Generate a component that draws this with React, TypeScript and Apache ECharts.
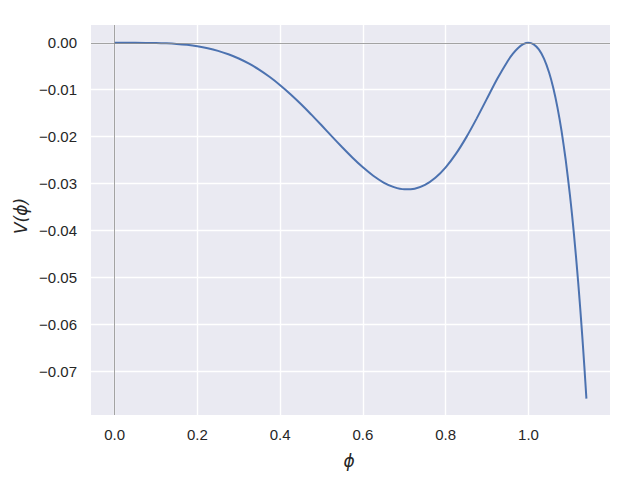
import React, { useEffect, useRef } from "react";
import * as echarts from "echarts";

// φ values and V(φ) values
const phi = [
  0, 0.05, 0.1, 0.125, 0.15, 0.175, 0.2, 0.225, 0.25, 0.275, 0.3, 0.325, 0.35, 0.375,
  0.4, 0.425, 0.45, 0.475, 0.5, 0.525, 0.55, 0.575, 0.6, 0.625, 0.65, 0.675, 0.7,
  0.725, 0.75, 0.775, 0.8, 0.825, 0.85, 0.875, 0.9, 0.925, 0.95, 0.9625, 0.975,
  0.9875, 1.0, 1.0125, 1.025, 1.0375, 1.05, 1.06, 1.07, 1.08, 1.09, 1.1, 1.105,
  1.11, 1.115, 1.12, 1.125, 1.13, 1.135, 1.14,
];
const V = [
  0, -0.0000031, -0.000049, -0.000118, -0.000242, -0.000441, -0.000737, -0.001155,
  -0.001717, -0.002443, -0.003354, -0.004462, -0.005777, -0.007302, -0.009032,
  -0.010952, -0.01304, -0.015263, -0.017578, -0.019932, -0.022259, -0.02449,
  -0.026542, -0.028331, -0.029767, -0.03076, -0.031225, -0.031086, -0.030281,
  -0.02877, -0.026542, -0.023626, -0.020099, -0.0161, -0.011843, -0.00763,
  -0.003871, -0.002324, -0.0011016, -0.000293, 0, -0.000333, -0.001414, -0.003382,
  -0.006385, -0.009643, -0.013761, -0.018835, -0.024972, -0.032283, -0.036417,
  -0.04089, -0.045718, -0.050919, -0.056509, -0.062507, -0.068932, -0.075801,
];
const xTicks = [0.0, 0.2, 0.4, 0.6, 0.8, 1.0];
const yTicks = [-0.07, -0.06, -0.05, -0.04, -0.03, -0.02, -0.01, 0.0];
const xRange = [-0.057, 1.197];
const yRange = [-0.0793, 0.00379];

const fmtY = (v: number) => {
  const s = Math.abs(v).toFixed(2);
  return v < -1e-9 ? "\u2212" + s : s;
};

export default function App() {
  const ref = useRef<HTMLDivElement>(null);
  useEffect(() => {
    if (!ref.current) return;
    const chart = echarts.init(ref.current, undefined, { renderer: "svg" });
    const labelStyle = {
      color: "#262626",
      fontFamily: "Liberation Sans",
      fontSize: 15,
    };
    chart.setOption({
      animation: false,
      backgroundColor: "#ffffff",
      grid: {
        left: 91,
        top: 25,
        width: 519,
        height: 390,
        show: true,
        backgroundColor: "#EAEAF2",
        borderWidth: 0,
      },
      xAxis: {
        type: "value",
        min: xRange[0],
        max: xRange[1],
        axisLine: { show: false },
        axisTick: { show: false, customValues: xTicks },
        axisLabel: {
          ...labelStyle,
          customValues: xTicks,
          margin: 12,
          formatter: (v: number) => v.toFixed(1),
        },
        splitLine: { show: true, lineStyle: { color: "#ffffff", width: 1.4 } },
      },
      yAxis: {
        type: "value",
        min: yRange[0],
        max: yRange[1],
        axisLine: { show: false },
        axisTick: { show: false, customValues: yTicks },
        axisLabel: {
          ...labelStyle,
          customValues: yTicks,
          margin: 14,
          formatter: (v: number) => fmtY(v),
        },
        splitLine: { show: true, lineStyle: { color: "#ffffff", width: 1.4 } },
      },
      graphic: [
        {
          type: "text",
          x: 349,
          y: 461,
          style: {
            text: "ϕ",
            fontFamily: "DejaVu Sans",
            fontStyle: "italic",
            fontSize: 17,
            fill: "#262626",
            textAlign: "center",
            textVerticalAlign: "middle",
          },
        },
        {
          type: "text",
          x: 21,
          y: 216,
          rotation: Math.PI / 2,
          style: {
            text: "V(ϕ)",
            fontFamily: "DejaVu Sans",
            fontStyle: "italic",
            fontSize: 17,
            fill: "#262626",
            textAlign: "center",
            textVerticalAlign: "middle",
          },
        },
      ],
      series: [
        {
          type: "line",
          data: [],
          z: 1,
          silent: true,
          markLine: {
            silent: true,
            symbol: "none",
            label: { show: false },
            lineStyle: { color: "#8c8c8c", width: 0.8, type: "solid" },
            data: [{ xAxis: 0 }, { yAxis: 0 }],
          },
        },
        {
          type: "line",
          z: 3,
          data: phi.map((p, i) => [p, V[i]]),
          showSymbol: false,
          smooth: 0.2,
          lineStyle: { color: "#4C72B0", width: 2 },
        },
      ],
    });
    return () => chart.dispose();
  }, []);
  return (
    <div
      ref={ref}
      style={{ position: "fixed", left: 0, top: 0, width: 640, height: 480 }}
    />
  );
}
